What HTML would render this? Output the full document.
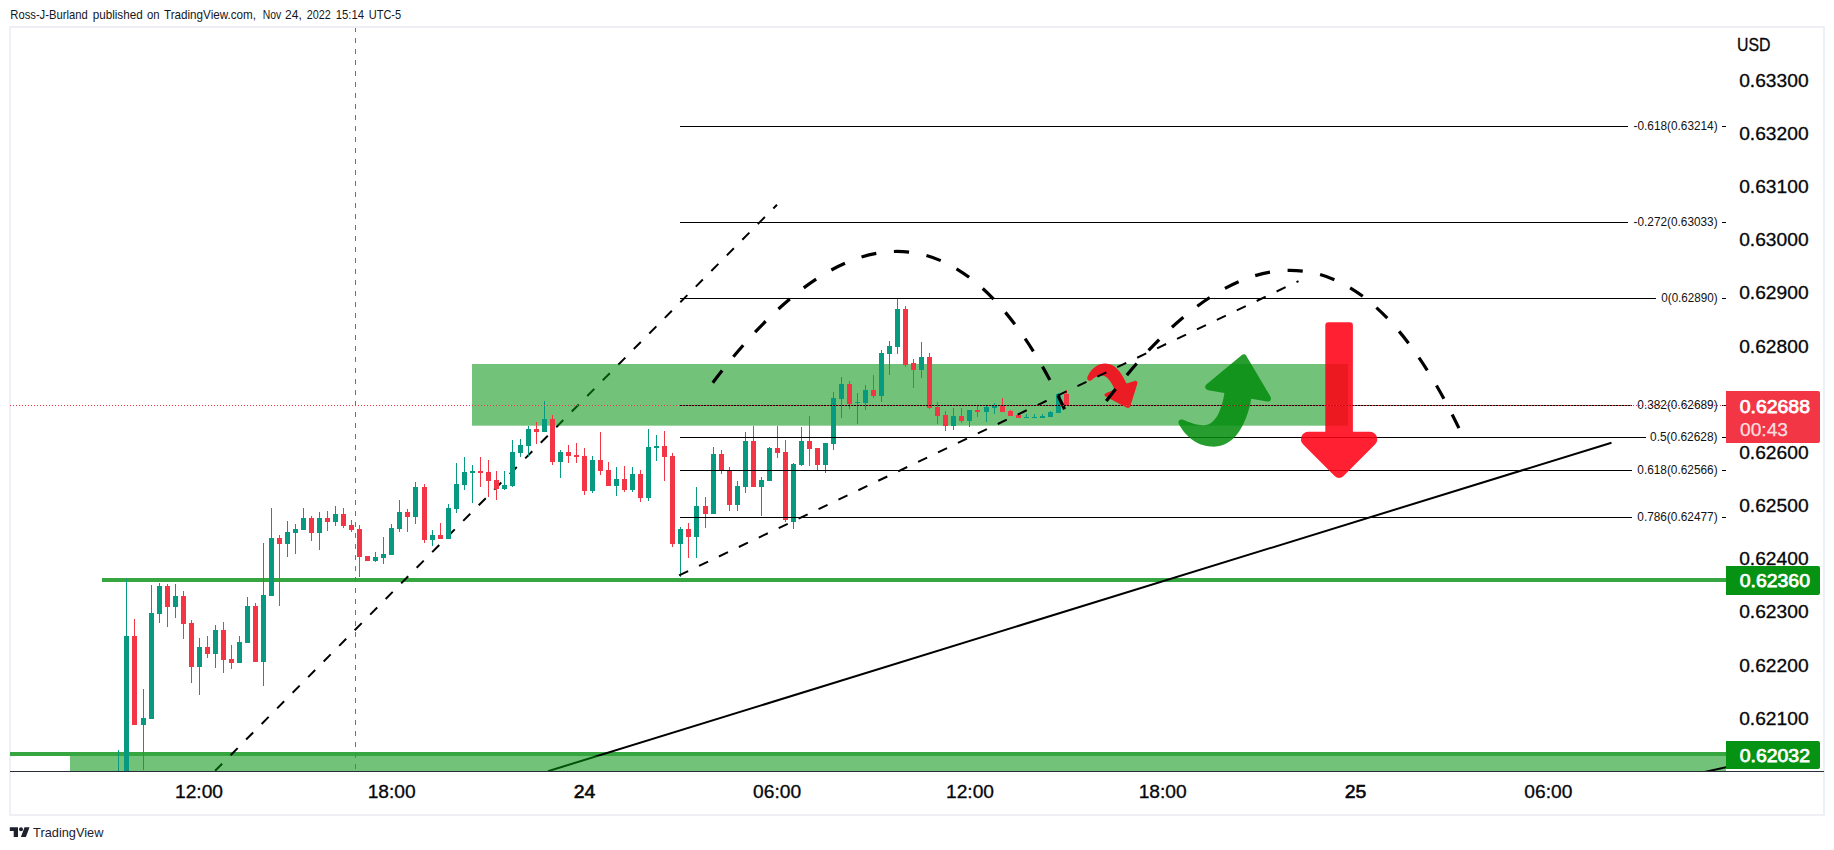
<!DOCTYPE html>
<html lang="en"><head><meta charset="utf-8"><title>NZDUSD chart - TradingView</title>
<style>
html,body{margin:0;padding:0;background:#fff;}
body{width:1834px;height:850px;overflow:hidden;font-family:"Liberation Sans", sans-serif;}
svg{display:block;position:absolute;left:0;top:0;}
text{font-family:"Liberation Sans", sans-serif;}
.ax{font-size:18px;fill:#06070b;stroke:#06070b;stroke-width:0.3px;}
.fib{font-size:12px;fill:#111;}
.lbl{font-size:18px;fill:#fff;stroke:#fff;stroke-width:0.75px;}
</style></head><body>
<svg width="1834" height="850" viewBox="0 0 1834 850">
<rect x="0" y="0" width="1834" height="850" fill="#fff"/>

<text y="19.3" font-size="13" fill="#131722"><tspan x="10.3" textLength="77.4" lengthAdjust="spacingAndGlyphs">Ross-J-Burland</tspan> <tspan x="92.7" textLength="50.0" lengthAdjust="spacingAndGlyphs">published</tspan> <tspan x="147" textLength="12.6" lengthAdjust="spacingAndGlyphs">on</tspan> <tspan x="164" textLength="92.0" lengthAdjust="spacingAndGlyphs">TradingView.com,</tspan> <tspan x="262.7" textLength="18.5" lengthAdjust="spacingAndGlyphs">Nov</tspan> <tspan x="285.1" textLength="16.7" lengthAdjust="spacingAndGlyphs">24,</tspan> <tspan x="306.8" textLength="24.1" lengthAdjust="spacingAndGlyphs">2022</tspan> <tspan x="335.7" textLength="28.4" lengthAdjust="spacingAndGlyphs">15:14</tspan> <tspan x="368.7" textLength="32.5" lengthAdjust="spacingAndGlyphs">UTC-5</tspan></text>
<rect x="10" y="27" width="1814" height="788" fill="#fff" stroke="#eef0f6" stroke-width="2"/>
<defs><clipPath id="pane"><rect x="10" y="28" width="1716" height="743"/></clipPath></defs>
<g clip-path="url(#pane)">
<rect x="102" y="578" width="1630" height="4" fill="#35a640"/>
<rect x="10" y="752" width="1721" height="4" fill="#35a640"/>
<line x1="777" y1="204.8" x2="205" y2="781" stroke="#000" stroke-width="2" stroke-dasharray="10 12.01" stroke-dashoffset="4.8"/>
<line x1="548" y1="771.2" x2="1611.5" y2="442.7" stroke="#000" stroke-width="2"/>
<rect x="472" y="364" width="876" height="61.7" fill="rgba(6,146,18,0.56)"/>
<rect x="70" y="756" width="1660" height="18" fill="rgba(6,146,18,0.56)"/>
<line x1="355.5" x2="355.5" y1="27" y2="771" stroke="#3a76e8" stroke-width="1" stroke-dasharray="5 6" shape-rendering="crispEdges"/>
<g shape-rendering="crispEdges">
<rect x="118" y="750" width="1" height="43" fill="#089981"/>
<rect x="116" y="793" width="5" height="1" fill="#089981"/>
<rect x="126" y="579" width="1" height="214" fill="#089981"/>
<rect x="124" y="636" width="5" height="157" fill="#089981"/>
<rect x="134" y="619" width="1" height="106" fill="#f23645"/>
<rect x="132" y="636" width="5" height="89" fill="#f23645"/>
<rect x="143" y="689" width="1" height="81" fill="#089981"/>
<rect x="141" y="718" width="5" height="7" fill="#089981"/>
<rect x="151" y="585" width="1" height="134" fill="#089981"/>
<rect x="149" y="613" width="5" height="106" fill="#089981"/>
<rect x="159" y="583" width="1" height="40" fill="#089981"/>
<rect x="157" y="586" width="5" height="28" fill="#089981"/>
<rect x="167" y="584" width="1" height="43" fill="#f23645"/>
<rect x="165" y="586" width="5" height="21" fill="#f23645"/>
<rect x="175" y="584" width="1" height="34" fill="#089981"/>
<rect x="173" y="596" width="5" height="11" fill="#089981"/>
<rect x="183" y="591" width="1" height="48" fill="#f23645"/>
<rect x="181" y="596" width="5" height="28" fill="#f23645"/>
<rect x="191" y="620" width="1" height="63" fill="#f23645"/>
<rect x="189" y="623" width="5" height="44" fill="#f23645"/>
<rect x="199" y="638" width="1" height="57" fill="#089981"/>
<rect x="197" y="647" width="5" height="20" fill="#089981"/>
<rect x="207" y="636" width="1" height="22" fill="#f23645"/>
<rect x="205" y="647" width="5" height="7" fill="#f23645"/>
<rect x="215" y="625" width="1" height="43" fill="#089981"/>
<rect x="213" y="630" width="5" height="24" fill="#089981"/>
<rect x="223" y="622" width="1" height="51" fill="#f23645"/>
<rect x="221" y="630" width="5" height="30" fill="#f23645"/>
<rect x="231" y="645" width="1" height="24" fill="#f23645"/>
<rect x="229" y="659" width="5" height="4" fill="#f23645"/>
<rect x="239" y="636" width="1" height="27" fill="#089981"/>
<rect x="237" y="642" width="5" height="21" fill="#089981"/>
<rect x="247" y="597" width="1" height="46" fill="#089981"/>
<rect x="245" y="606" width="5" height="37" fill="#089981"/>
<rect x="255" y="603" width="1" height="59" fill="#f23645"/>
<rect x="253" y="606" width="5" height="56" fill="#f23645"/>
<rect x="263" y="543" width="1" height="143" fill="#089981"/>
<rect x="261" y="595" width="5" height="67" fill="#089981"/>
<rect x="271" y="508" width="1" height="88" fill="#089981"/>
<rect x="269" y="538" width="5" height="58" fill="#089981"/>
<rect x="279" y="535" width="1" height="71" fill="#f23645"/>
<rect x="277" y="538" width="5" height="6" fill="#f23645"/>
<rect x="287" y="521" width="1" height="36" fill="#089981"/>
<rect x="285" y="532" width="5" height="12" fill="#089981"/>
<rect x="295" y="524" width="1" height="30" fill="#089981"/>
<rect x="293" y="529" width="5" height="4" fill="#089981"/>
<rect x="303" y="508" width="1" height="22" fill="#089981"/>
<rect x="301" y="518" width="5" height="12" fill="#089981"/>
<rect x="311" y="516" width="1" height="25" fill="#f23645"/>
<rect x="309" y="518" width="5" height="15" fill="#f23645"/>
<rect x="319" y="512" width="1" height="38" fill="#089981"/>
<rect x="317" y="518" width="5" height="15" fill="#089981"/>
<rect x="327" y="511" width="1" height="20" fill="#f23645"/>
<rect x="325" y="518" width="5" height="4" fill="#f23645"/>
<rect x="335" y="506" width="1" height="20" fill="#089981"/>
<rect x="333" y="514" width="5" height="8" fill="#089981"/>
<rect x="343" y="508" width="1" height="20" fill="#f23645"/>
<rect x="341" y="514" width="5" height="12" fill="#f23645"/>
<rect x="351" y="520" width="1" height="12" fill="#f23645"/>
<rect x="349" y="525" width="5" height="5" fill="#f23645"/>
<rect x="359" y="525" width="1" height="52" fill="#f23645"/>
<rect x="357" y="529" width="5" height="28" fill="#f23645"/>
<rect x="367" y="556" width="1" height="5" fill="#f23645"/>
<rect x="365" y="556" width="5" height="5" fill="#f23645"/>
<rect x="375" y="552" width="1" height="10" fill="#089981"/>
<rect x="373" y="557" width="5" height="4" fill="#089981"/>
<rect x="383" y="537" width="1" height="27" fill="#089981"/>
<rect x="381" y="554" width="5" height="4" fill="#089981"/>
<rect x="391" y="524" width="1" height="31" fill="#089981"/>
<rect x="389" y="528" width="5" height="27" fill="#089981"/>
<rect x="399" y="500" width="1" height="32" fill="#089981"/>
<rect x="397" y="512" width="5" height="17" fill="#089981"/>
<rect x="407" y="509" width="1" height="23" fill="#f23645"/>
<rect x="405" y="512" width="5" height="5" fill="#f23645"/>
<rect x="415" y="482" width="1" height="42" fill="#089981"/>
<rect x="413" y="487" width="5" height="30" fill="#089981"/>
<rect x="424" y="484" width="1" height="59" fill="#f23645"/>
<rect x="422" y="487" width="5" height="53" fill="#f23645"/>
<rect x="432" y="530" width="1" height="16" fill="#089981"/>
<rect x="430" y="535" width="5" height="5" fill="#089981"/>
<rect x="440" y="523" width="1" height="16" fill="#f23645"/>
<rect x="438" y="535" width="5" height="4" fill="#f23645"/>
<rect x="448" y="504" width="1" height="35" fill="#089981"/>
<rect x="446" y="508" width="5" height="31" fill="#089981"/>
<rect x="456" y="463" width="1" height="50" fill="#089981"/>
<rect x="454" y="484" width="5" height="25" fill="#089981"/>
<rect x="464" y="457" width="1" height="33" fill="#089981"/>
<rect x="462" y="472" width="5" height="13" fill="#089981"/>
<rect x="472" y="465" width="1" height="38" fill="#089981"/>
<rect x="470" y="471" width="5" height="2" fill="#089981"/>
<rect x="480" y="457" width="1" height="30" fill="#f23645"/>
<rect x="478" y="471" width="5" height="2" fill="#f23645"/>
<rect x="488" y="460" width="1" height="37" fill="#f23645"/>
<rect x="486" y="472" width="5" height="9" fill="#f23645"/>
<rect x="496" y="471" width="1" height="29" fill="#f23645"/>
<rect x="494" y="480" width="5" height="9" fill="#f23645"/>
<rect x="504" y="471" width="1" height="19" fill="#089981"/>
<rect x="502" y="485" width="5" height="4" fill="#089981"/>
<rect x="512" y="440" width="1" height="47" fill="#089981"/>
<rect x="510" y="452" width="5" height="34" fill="#089981"/>
<rect x="520" y="439" width="1" height="18" fill="#089981"/>
<rect x="518" y="445" width="5" height="8" fill="#089981"/>
<rect x="528" y="426" width="1" height="31" fill="#089981"/>
<rect x="526" y="429" width="5" height="17" fill="#089981"/>
<rect x="536" y="422" width="1" height="22" fill="#f23645"/>
<rect x="534" y="429" width="5" height="3" fill="#f23645"/>
<rect x="544" y="401" width="1" height="31" fill="#089981"/>
<rect x="542" y="419" width="5" height="13" fill="#089981"/>
<rect x="552" y="415" width="1" height="50" fill="#f23645"/>
<rect x="550" y="419" width="5" height="43" fill="#f23645"/>
<rect x="560" y="450" width="1" height="28" fill="#089981"/>
<rect x="558" y="452" width="5" height="10" fill="#089981"/>
<rect x="568" y="445" width="1" height="18" fill="#f23645"/>
<rect x="566" y="452" width="5" height="4" fill="#f23645"/>
<rect x="576" y="443" width="1" height="20" fill="#f23645"/>
<rect x="574" y="455" width="5" height="2" fill="#f23645"/>
<rect x="584" y="448" width="1" height="47" fill="#f23645"/>
<rect x="582" y="456" width="5" height="35" fill="#f23645"/>
<rect x="592" y="456" width="1" height="37" fill="#089981"/>
<rect x="590" y="460" width="5" height="31" fill="#089981"/>
<rect x="600" y="432" width="1" height="43" fill="#f23645"/>
<rect x="598" y="460" width="5" height="11" fill="#f23645"/>
<rect x="608" y="462" width="1" height="24" fill="#f23645"/>
<rect x="606" y="470" width="5" height="16" fill="#f23645"/>
<rect x="616" y="467" width="1" height="29" fill="#089981"/>
<rect x="614" y="479" width="5" height="7" fill="#089981"/>
<rect x="624" y="466" width="1" height="26" fill="#f23645"/>
<rect x="622" y="479" width="5" height="11" fill="#f23645"/>
<rect x="632" y="467" width="1" height="25" fill="#089981"/>
<rect x="630" y="474" width="5" height="16" fill="#089981"/>
<rect x="640" y="470" width="1" height="32" fill="#f23645"/>
<rect x="638" y="474" width="5" height="24" fill="#f23645"/>
<rect x="648" y="429" width="1" height="72" fill="#089981"/>
<rect x="646" y="447" width="5" height="51" fill="#089981"/>
<rect x="656" y="435" width="1" height="26" fill="#089981"/>
<rect x="654" y="446" width="5" height="2" fill="#089981"/>
<rect x="664" y="431" width="1" height="50" fill="#f23645"/>
<rect x="662" y="446" width="5" height="11" fill="#f23645"/>
<rect x="672" y="453" width="1" height="94" fill="#f23645"/>
<rect x="670" y="456" width="5" height="88" fill="#f23645"/>
<rect x="680" y="527" width="1" height="50" fill="#089981"/>
<rect x="678" y="529" width="5" height="15" fill="#089981"/>
<rect x="688" y="523" width="1" height="35" fill="#f23645"/>
<rect x="686" y="529" width="5" height="8" fill="#f23645"/>
<rect x="696" y="487" width="1" height="71" fill="#089981"/>
<rect x="694" y="506" width="5" height="31" fill="#089981"/>
<rect x="705" y="497" width="1" height="31" fill="#f23645"/>
<rect x="703" y="506" width="5" height="8" fill="#f23645"/>
<rect x="713" y="447" width="1" height="67" fill="#089981"/>
<rect x="711" y="454" width="5" height="60" fill="#089981"/>
<rect x="721" y="450" width="1" height="24" fill="#f23645"/>
<rect x="719" y="454" width="5" height="17" fill="#f23645"/>
<rect x="729" y="467" width="1" height="44" fill="#f23645"/>
<rect x="727" y="470" width="5" height="35" fill="#f23645"/>
<rect x="737" y="481" width="1" height="30" fill="#089981"/>
<rect x="735" y="486" width="5" height="19" fill="#089981"/>
<rect x="745" y="432" width="1" height="61" fill="#089981"/>
<rect x="743" y="441" width="5" height="46" fill="#089981"/>
<rect x="753" y="426" width="1" height="61" fill="#f23645"/>
<rect x="751" y="441" width="5" height="46" fill="#f23645"/>
<rect x="761" y="477" width="1" height="39" fill="#089981"/>
<rect x="759" y="480" width="5" height="7" fill="#089981"/>
<rect x="769" y="447" width="1" height="34" fill="#089981"/>
<rect x="767" y="448" width="5" height="33" fill="#089981"/>
<rect x="777" y="426" width="1" height="32" fill="#f23645"/>
<rect x="775" y="448" width="5" height="5" fill="#f23645"/>
<rect x="785" y="440" width="1" height="82" fill="#f23645"/>
<rect x="783" y="452" width="5" height="68" fill="#f23645"/>
<rect x="793" y="463" width="1" height="66" fill="#089981"/>
<rect x="791" y="464" width="5" height="58" fill="#089981"/>
<rect x="801" y="427" width="1" height="39" fill="#089981"/>
<rect x="799" y="441" width="5" height="24" fill="#089981"/>
<rect x="809" y="416" width="1" height="50" fill="#f23645"/>
<rect x="807" y="441" width="5" height="8" fill="#f23645"/>
<rect x="817" y="448" width="1" height="23" fill="#f23645"/>
<rect x="815" y="448" width="5" height="17" fill="#f23645"/>
<rect x="825" y="443" width="1" height="30" fill="#089981"/>
<rect x="823" y="443" width="5" height="22" fill="#089981"/>
<rect x="833" y="392" width="1" height="58" fill="#089981"/>
<rect x="831" y="398" width="5" height="46" fill="#089981"/>
<rect x="841" y="377" width="1" height="41" fill="#089981"/>
<rect x="839" y="384" width="5" height="15" fill="#089981"/>
<rect x="849" y="381" width="1" height="28" fill="#f23645"/>
<rect x="847" y="384" width="5" height="20" fill="#f23645"/>
<rect x="857" y="393" width="1" height="31" fill="#089981"/>
<rect x="855" y="402" width="5" height="1" fill="#089981"/>
<rect x="865" y="385" width="1" height="25" fill="#089981"/>
<rect x="863" y="390" width="5" height="13" fill="#089981"/>
<rect x="873" y="375" width="1" height="23" fill="#f23645"/>
<rect x="871" y="390" width="5" height="6" fill="#f23645"/>
<rect x="881" y="350" width="1" height="52" fill="#089981"/>
<rect x="879" y="353" width="5" height="43" fill="#089981"/>
<rect x="889" y="341" width="1" height="34" fill="#089981"/>
<rect x="887" y="346" width="5" height="8" fill="#089981"/>
<rect x="897" y="298" width="1" height="56" fill="#089981"/>
<rect x="895" y="309" width="5" height="38" fill="#089981"/>
<rect x="905" y="306" width="1" height="61" fill="#f23645"/>
<rect x="903" y="309" width="5" height="56" fill="#f23645"/>
<rect x="913" y="359" width="1" height="29" fill="#f23645"/>
<rect x="911" y="363" width="5" height="7" fill="#f23645"/>
<rect x="921" y="342" width="1" height="36" fill="#089981"/>
<rect x="919" y="357" width="5" height="13" fill="#089981"/>
<rect x="929" y="353" width="1" height="56" fill="#f23645"/>
<rect x="927" y="357" width="5" height="51" fill="#f23645"/>
<rect x="937" y="402" width="1" height="22" fill="#f23645"/>
<rect x="935" y="407" width="5" height="9" fill="#f23645"/>
<rect x="945" y="411" width="1" height="20" fill="#f23645"/>
<rect x="943" y="415" width="5" height="11" fill="#f23645"/>
<rect x="953" y="408" width="1" height="22" fill="#089981"/>
<rect x="951" y="416" width="5" height="10" fill="#089981"/>
<rect x="961" y="408" width="1" height="15" fill="#f23645"/>
<rect x="959" y="416" width="5" height="5" fill="#f23645"/>
<rect x="969" y="410" width="1" height="17" fill="#089981"/>
<rect x="967" y="410" width="5" height="11" fill="#089981"/>
<rect x="977" y="405" width="1" height="12" fill="#f23645"/>
<rect x="975" y="410" width="5" height="2" fill="#f23645"/>
<rect x="986" y="405" width="1" height="17" fill="#089981"/>
<rect x="984" y="407" width="5" height="5" fill="#089981"/>
<rect x="994" y="403" width="1" height="11" fill="#089981"/>
<rect x="992" y="406" width="5" height="2" fill="#089981"/>
<rect x="1002" y="398" width="1" height="14" fill="#f23645"/>
<rect x="1000" y="406" width="5" height="6" fill="#f23645"/>
<rect x="1010" y="410" width="1" height="6" fill="#f23645"/>
<rect x="1008" y="411" width="5" height="5" fill="#f23645"/>
<rect x="1018" y="413" width="1" height="5" fill="#f23645"/>
<rect x="1016" y="415" width="5" height="3" fill="#f23645"/>
<rect x="1026" y="414" width="1" height="4" fill="#089981"/>
<rect x="1024" y="417" width="5" height="1" fill="#089981"/>
<rect x="1034" y="414" width="1" height="4" fill="#089981"/>
<rect x="1032" y="417" width="5" height="1" fill="#089981"/>
<rect x="1042" y="414" width="1" height="4" fill="#089981"/>
<rect x="1040" y="416" width="5" height="2" fill="#089981"/>
<rect x="1050" y="411" width="1" height="6" fill="#089981"/>
<rect x="1048" y="412" width="5" height="5" fill="#089981"/>
<rect x="1058" y="393" width="1" height="20" fill="#089981"/>
<rect x="1056" y="394" width="5" height="19" fill="#089981"/>
<rect x="1066" y="390" width="1" height="16" fill="#f23645"/>
<rect x="1064" y="394" width="5" height="12" fill="#f23645"/>
</g>
<g shape-rendering="crispEdges" stroke="#000" stroke-width="1">
<line x1="680" x2="1628" y1="126.5" y2="126.5"/>
<line x1="1722" x2="1726" y1="126.5" y2="126.5"/>
<line x1="680" x2="1628" y1="222.5" y2="222.5"/>
<line x1="1722" x2="1726" y1="222.5" y2="222.5"/>
<line x1="680" x2="1656" y1="298.5" y2="298.5"/>
<line x1="1722" x2="1726" y1="298.5" y2="298.5"/>
<line x1="680" x2="1632" y1="405.5" y2="405.5"/>
<line x1="1722" x2="1726" y1="405.5" y2="405.5"/>
<line x1="680" x2="1646" y1="437.5" y2="437.5"/>
<line x1="1722" x2="1726" y1="437.5" y2="437.5"/>
<line x1="680" x2="1632" y1="470.5" y2="470.5"/>
<line x1="1722" x2="1726" y1="470.5" y2="470.5"/>
<line x1="680" x2="1632" y1="517.5" y2="517.5"/>
<line x1="1722" x2="1726" y1="517.5" y2="517.5"/>
</g>
<path d="M1088.6,380.6 C1086.8,379.6 1087,377.6 1087.8,376 C1092,368 1098,363.6 1105.4,363.6 C1115,363.6 1121,372 1126.5,383.5 L1134.6,380.9 C1136.6,380.3 1137.9,381.9 1137.3,383.8 L1130.4,406 C1129.8,408 1128,408.3 1126.4,407.4 L1105.6,396.6 C1104,395.7 1104.1,393.8 1105.8,393.2 L1114.7,389.6 C1111,381 1107,375.4 1101.5,375.4 C1097.5,375.4 1094.5,377.5 1091.6,380 C1090.6,380.9 1089.6,381.1 1088.6,380.6 Z" fill="#ec1c24"/>
<path d="M1241.6,355.2 C1243.2,353.9 1245.4,354.1 1246.4,355.9 L1270.4,396.4 C1272,399.2 1270.2,401.9 1267.2,401.4 L1251.2,398.7 C1249.4,410 1245,424 1236.8,434.8 C1229.5,444 1220,447 1211.5,446.6 C1195,445.8 1184,434 1178.9,424 C1177.6,421.2 1179.6,418.6 1182.4,419.6 C1190,422.6 1196.5,425.4 1203.5,425.3 C1211,425.1 1216,419.5 1219.4,411.5 C1222,405.4 1223.6,398.6 1224.4,393 L1208.3,390.2 C1205,389.6 1204.2,386.3 1206.6,384.3 Z" fill="rgba(4,141,14,0.86)"/>
<path d="M1328.3,322.3 H1350 Q1352.9,322.3 1352.9,325.2 V431.7 H1369.7 A7.5,7.5 0 0 1 1375,444.5 L1343.3,476.2 A6,6 0 0 1 1334.9,476.2 L1303.2,444.5 A7.5,7.5 0 0 1 1308.5,431.7 H1325.3 V325.2 Q1325.3,322.3 1328.3,322.3 Z" fill="rgba(255,0,20,0.87)"/>
<line x1="1700" y1="773" x2="1730" y2="766.4" stroke="#000" stroke-width="2"/>
<line x1="679.1" y1="575.4" x2="1298.5" y2="281.1" stroke="#000" stroke-width="2" stroke-dasharray="10 12.05"/>
<path d="M712.8,382.7 Q921.6,107.6 1064.6,409.2" fill="none" stroke="#000" stroke-width="3.2" stroke-dasharray="15.2 17.73"/>
<path d="M1106.3,401 Q1314.1,126.7 1458.9,428.1" fill="none" stroke="#000" stroke-width="3.2" stroke-dasharray="15.2 17.73"/>
<line x1="10" x2="1726" y1="405.5" y2="405.5" stroke="#f23645" stroke-width="1" stroke-dasharray="1 2" shape-rendering="crispEdges"/>
</g>
<text class="fib" x="1633.6" y="130.3" textLength="84.0" lengthAdjust="spacingAndGlyphs">-0.618(0.63214)</text>
<text class="fib" x="1633.6" y="225.9" textLength="84.0" lengthAdjust="spacingAndGlyphs">-0.272(0.63033)</text>
<text class="fib" x="1661.3" y="302.4" textLength="56.3" lengthAdjust="spacingAndGlyphs">0(0.62890)</text>
<text class="fib" x="1637.3" y="409.4" textLength="80.3" lengthAdjust="spacingAndGlyphs">0.382(0.62689)</text>
<text class="fib" x="1650" y="441.3" textLength="67.6" lengthAdjust="spacingAndGlyphs">0.5(0.62628)</text>
<text class="fib" x="1637.3" y="474.2" textLength="80.3" lengthAdjust="spacingAndGlyphs">0.618(0.62566)</text>
<text class="fib" x="1637.3" y="521.4" textLength="80.3" lengthAdjust="spacingAndGlyphs">0.786(0.62477)</text>
<rect x="10" y="771" width="1814" height="1" fill="#2a2e39"/>
<text class="ax" x="1737" y="51.3" textLength="33.5" lengthAdjust="spacingAndGlyphs" font-size="17.5">USD</text>
<text class="ax" x="1739.2" y="86.6" textLength="69.4" lengthAdjust="spacingAndGlyphs">0.63300</text>
<text class="ax" x="1739.2" y="139.8" textLength="69.4" lengthAdjust="spacingAndGlyphs">0.63200</text>
<text class="ax" x="1739.2" y="192.9" textLength="69.4" lengthAdjust="spacingAndGlyphs">0.63100</text>
<text class="ax" x="1739.2" y="246.1" textLength="69.4" lengthAdjust="spacingAndGlyphs">0.63000</text>
<text class="ax" x="1739.2" y="299.3" textLength="69.4" lengthAdjust="spacingAndGlyphs">0.62900</text>
<text class="ax" x="1739.2" y="352.5" textLength="69.4" lengthAdjust="spacingAndGlyphs">0.62800</text>
<text class="ax" x="1739.2" y="405.6" textLength="69.4" lengthAdjust="spacingAndGlyphs">0.62700</text>
<text class="ax" x="1739.2" y="458.8" textLength="69.4" lengthAdjust="spacingAndGlyphs">0.62600</text>
<text class="ax" x="1739.2" y="512.0" textLength="69.4" lengthAdjust="spacingAndGlyphs">0.62500</text>
<text class="ax" x="1739.2" y="565.1" textLength="69.4" lengthAdjust="spacingAndGlyphs">0.62400</text>
<text class="ax" x="1739.2" y="618.3" textLength="69.4" lengthAdjust="spacingAndGlyphs">0.62300</text>
<text class="ax" x="1739.2" y="671.5" textLength="69.4" lengthAdjust="spacingAndGlyphs">0.62200</text>
<text class="ax" x="1739.2" y="724.7" textLength="69.4" lengthAdjust="spacingAndGlyphs">0.62100</text>
<path d="M1726,391 H1818 Q1820,391 1820,393 V441 Q1820,443 1818,443 H1726 Z" fill="#f23645"/>
<text class="lbl" x="1739.7" y="412.8" textLength="70.3" lengthAdjust="spacingAndGlyphs">0.62688</text>
<text x="1740" y="435.6" font-size="18" fill="rgba(255,255,255,0.82)" stroke="rgba(255,255,255,0.82)" stroke-width="0.25" textLength="48" lengthAdjust="spacingAndGlyphs">00:43</text>
<path d="M1726,566 H1818 Q1820,566 1820,568 V593 Q1820,595 1818,595 H1726 Z" fill="#069212"/>
<text class="lbl" x="1739.7" y="587" textLength="70.3" lengthAdjust="spacingAndGlyphs">0.62360</text>
<path d="M1726,741 H1818 Q1820,741 1820,743 V767 Q1820,769 1818,769 H1726 Z" fill="#069212"/>
<text class="lbl" x="1739.7" y="762" textLength="70.3" lengthAdjust="spacingAndGlyphs">0.62032</text>
<text class="ax" x="175.0" y="798.2" textLength="48" lengthAdjust="spacingAndGlyphs">12:00</text>
<text class="ax" x="367.7" y="798.2" textLength="48" lengthAdjust="spacingAndGlyphs">18:00</text>
<text class="ax" x="573.8" y="798.2" style="stroke-width:0.55px" textLength="21.6" lengthAdjust="spacingAndGlyphs">24</text>
<text class="ax" x="753.1" y="798.2" textLength="48" lengthAdjust="spacingAndGlyphs">06:00</text>
<text class="ax" x="946.0" y="798.2" textLength="48" lengthAdjust="spacingAndGlyphs">12:00</text>
<text class="ax" x="1138.7" y="798.2" textLength="48" lengthAdjust="spacingAndGlyphs">18:00</text>
<text class="ax" x="1344.7" y="798.2" style="stroke-width:0.55px" textLength="21.6" lengthAdjust="spacingAndGlyphs">25</text>
<text class="ax" x="1524.3" y="798.2" textLength="48" lengthAdjust="spacingAndGlyphs">06:00</text>
<g fill="#1e222d"><path d="M9.8,827.2 H18 V836.9 H13.7 V831 H9.8 Z"/><circle cx="21" cy="829.15" r="2"/><path d="M24.5,827.2 H29.5 L25.9,836.9 H20.9 Z"/></g>
<text x="33.1" y="837" font-size="12.6" fill="#1e222d" textLength="70.3" lengthAdjust="spacingAndGlyphs">TradingView</text>
</svg></body></html>
